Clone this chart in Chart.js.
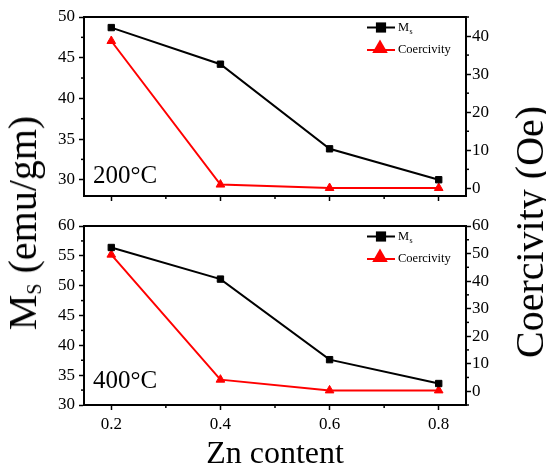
<!DOCTYPE html>
<html>
<head>
<meta charset="utf-8">
<script src="https://cdn.jsdelivr.net/npm/chart.js@4.4.1/dist/chart.umd.min.js"></script>
<style>
  body { margin: 0; background: #fff; }
  #wrap { position: relative; width: 546px; height: 470px; overflow: hidden; font-family: 'Liberation Serif', 'Times New Roman', serif; color: #000; }
  canvas { position: absolute; left: 0; }
  .txt { position: absolute; white-space: nowrap; line-height: 1; }
  .rot { transform: translate(-50%, -50%) rotate(-90deg); }
</style>
</head>
<body>
<div id="wrap">
  <canvas id="chartTop" width="546" height="215" style="top:0"></canvas>
  <canvas id="chartBottom" width="546" height="260" style="top:210px"></canvas>
  <div class="txt" style="left:93px;top:162px;font-size:25px">200°C</div>
  <div class="txt" style="left:93px;top:367px;font-size:25px">400°C</div>
  <div class="txt rot" style="left:26px;top:223px;font-size:40px;line-height:40px">M<span style="font-size:0.5em;position:relative;top:5px">S</span> (emu/gm)</div>
  <div class="txt rot" style="left:530px;top:232px;font-size:40px;line-height:40px">Coercivity (Oe)</div>
  <div class="txt" style="left:275px;top:436px;font-size:32px;line-height:32px;transform:translateX(-50%)">Zn content</div>
</div>
<script>
// Zn content on the x axis
const zn = [0.2, 0.4, 0.6, 0.8];

// 200°C panel
const ms200 = [48.7, 44.2, 33.8, 30.0];
const hc200 = [38.7, 1.0, 0.1, 0.1];

// 400°C panel
const ms400 = [56.4, 51.1, 37.6, 33.6];
const hc400 = [49.6, 4.2, 0.3, 0.3];

// tick labels
const xTicks = [0.2, 0.4, 0.6, 0.8];
const ms200Ticks = [30, 35, 40, 45, 50];
const hc200Ticks = [0, 10, 20, 30, 40];
const ms400Ticks = [30, 35, 40, 45, 50, 55, 60];
const hc400Ticks = [0, 10, 20, 30, 40, 50, 60];

Chart.defaults.font.family = "'Liberation Serif', 'Times New Roman', serif";
Chart.defaults.color = '#000';

// short outward ticks between the labelled ones
const minorTicks = {
    id: 'minorTicks',
    afterDraw(chart) {
        const ctx = chart.ctx;
        ctx.save();
        ctx.strokeStyle = '#000';
        ctx.lineWidth = 1.5;
        Object.values(chart.scales).forEach(s => {
            const step = s.options.minorStep;
            if (!step) return;
            const majors = s.ticks.map(t => t.value);
            const first = Math.ceil(s.min / step - 1e-9);
            const last = Math.floor(s.max / step + 1e-9);
            for (let i = first; i <= last; i++) {
                const v = i * step;
                if (majors.some(m => Math.abs(m - v) < 1e-6)) continue;
                const p = s.getPixelForValue(v);
                ctx.beginPath();
                if (s.isHorizontal()) {
                    ctx.moveTo(p, s.top); ctx.lineTo(p, s.top + 3);
                } else if (s.position === 'left') {
                    ctx.moveTo(s.right, p); ctx.lineTo(s.right - 3, p);
                } else {
                    ctx.moveTo(s.left, p); ctx.lineTo(s.left + 3, p);
                }
                ctx.stroke();
            }
        });
        ctx.restore();
    }
};

// box around the plot area
const frame = {
    id: 'frame',
    afterDraw(chart) {
        const a = chart.chartArea, ctx = chart.ctx;
        ctx.save();
        ctx.strokeStyle = '#000';
        ctx.lineWidth = 2;
        ctx.strokeRect(a.left, a.top, a.right - a.left, a.bottom - a.top);
        ctx.restore();
    }
};

function marker(ctx, style, x, y, r) {
    ctx.beginPath();
    if (style === 'rect') {
        const h = r * Math.SQRT1_2;
        ctx.rect(x - h, y - h, 2 * h, 2 * h);
    } else {
        ctx.moveTo(x, y - r);
        ctx.lineTo(x + r * Math.sin(Math.PI / 3), y + r / 2);
        ctx.lineTo(x - r * Math.sin(Math.PI / 3), y + r / 2);
        ctx.closePath();
    }
    ctx.fill();
}

// legend in the top right corner of the plot area
const cornerLegend = {
    id: 'cornerLegend',
    afterDraw(chart) {
        const a = chart.chartArea, ctx = chart.ctx;
        const rows = [a.top + 10.5, a.top + 33];
        ctx.save();
        chart.data.datasets.forEach((ds, i) => {
            const y = rows[i];
            ctx.strokeStyle = ds.borderColor;
            ctx.fillStyle = ds.borderColor;
            ctx.lineWidth = 2;
            ctx.beginPath();
            ctx.moveTo(a.right - 99, y);
            ctx.lineTo(a.right - 71, y);
            ctx.stroke();
            if (ds.pointStyle === 'rect') marker(ctx, 'rect', a.right - 85, y, 7.2);
            else marker(ctx, 'triangle', a.right - 86, y - 1.5, 9);
            ctx.fillStyle = '#000';
            ctx.textBaseline = 'middle';
            ctx.textAlign = 'left';
            const parts = ds.label.split('_');
            ctx.font = "12.5px 'Liberation Serif', serif";
            ctx.fillText(parts[0], a.right - 68, y);
            if (parts[1]) {
                const w = ctx.measureText(parts[0]).width;
                ctx.font = "8px 'Liberation Serif', serif";
                ctx.fillText(parts[1], a.right - 68 + w + 0.5, y + 4);
            }
        });
        ctx.restore();
    }
};

function yAxis(position, min, max, ticks, minorStep, width, pad) {
    return {
        type: 'linear',
        position: position,
        min: min,
        max: max,
        minorStep: minorStep,
        afterBuildTicks: s => { s.ticks = ticks.map(v => ({ value: v })); },
        afterFit: s => { s.width = width; },
        border: { display: true, color: '#000', width: 2 },
        grid: { drawOnChartArea: false, tickLength: 5, tickWidth: 1.5, tickColor: '#000' },
        ticks: { font: { size: 17 }, color: '#000', padding: pad }
    };
}

function xAxis(showLabels, height) {
    return {
        type: 'linear',
        position: 'bottom',
        min: 0.15,
        max: 0.85,
        minorStep: 0.1,
        afterBuildTicks: s => { s.ticks = xTicks.map(v => ({ value: v })); },
        afterFit: s => { s.height = height; },
        border: { display: true, color: '#000', width: 2 },
        grid: { drawOnChartArea: false, tickLength: 5, tickWidth: 1.5, tickColor: '#000' },
        ticks: {
            font: { size: 17 }, color: '#000', padding: 4, maxRotation: 0,
            callback: v => showLabels ? v.toFixed(1) : ''
        }
    };
}

function makeChart(id, ms, hc, msRange, hcRange, msTicks, hcTicks, padTop, xHeight, showX) {
    return new Chart(document.getElementById(id), {
        type: 'line',
        data: {
            datasets: [
                {
                    label: 'M_s',
                    data: zn.map((x, i) => ({ x: x, y: ms[i] })),
                    yAxisID: 'y',
                    borderColor: '#000',
                    backgroundColor: '#000',
                    borderWidth: 2,
                    pointStyle: 'rect',
                    pointRadius: 4.5,
                    pointBorderWidth: 1,
                    tension: 0
                },
                {
                    label: 'Coercivity',
                    data: zn.map((x, i) => ({ x: x, y: hc[i] })),
                    yAxisID: 'y1',
                    borderColor: '#ff0000',
                    backgroundColor: '#ff0000',
                    borderWidth: 2,
                    pointStyle: 'triangle',
                    pointRadius: 5,
                    pointBorderWidth: 1,
                    tension: 0
                }
            ]
        },
        options: {
            responsive: false,
            animation: false,
            layout: { padding: { top: padTop, left: 0, right: 0, bottom: 0 } },
            plugins: { legend: { display: false }, tooltip: { enabled: false } },
            scales: {
                x: xAxis(showX, xHeight),
                y: yAxis('left', msRange[0], msRange[1], msTicks, 2.5, 84, 4),
                y1: yAxis('right', hcRange[0], hcRange[1], hcTicks, 5, 80, 1)
            }
        },
        plugins: [minorTicks, frame, cornerLegend]
    });
}

makeChart('chartTop', ms200, hc200, [28, 50], [-2, 45], ms200Ticks, hc200Ticks, 17, 19, false);
makeChart('chartBottom', ms400, hc400, [30, 60], [-5, 60], ms400Ticks, hc400Ticks, 16, 65, true);
</script>
</body>
</html>
